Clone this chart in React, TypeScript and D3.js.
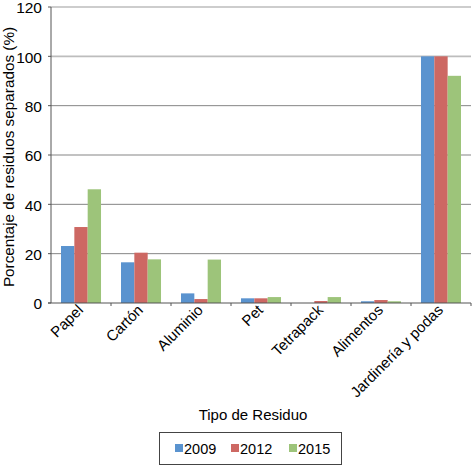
import React from "react";
import * as d3 from "d3";

const categories = ["Papel", "Cartón", "Aluminio", "Pet", "Tetrapack", "Alimentos", "Jardinería y podas"];
const seriesNames = ["2009", "2012", "2015"];
const values2009 = [23.1, 16.5, 3.9, 1.9, 0, 0.7, 100];
const values2012 = [30.8, 20.4, 1.6, 1.9, 0.8, 1.2, 100];
const values2015 = [46.1, 17.7, 17.6, 2.4, 2.4, 0.7, 92.1];
const yTicks = [0, 20, 40, 60, 80, 100, 120];
const colors = ["#5a93cf", "#cd6863", "#9dc47a"];

export default function App() {
  const W = 472, H = 466;
  const left = 51, right = 471, top = 7, bottom = 303;
  const series = [values2009, values2012, values2015];
  const x = d3.scaleBand<string>().domain(categories).range([left, right]).paddingInner(0.333).paddingOuter(0.1667);
  const xs = d3.scaleBand<string>().domain(seriesNames).range([0, x.bandwidth()]);
  const y = d3.scaleLinear().domain([0, 120]).range([bottom, top]);
  const step = (right - left) / categories.length;
  const font = "Liberation Sans, Arial, sans-serif";
  return (
    <svg width={W} height={H} style={{ position: "absolute", left: 0, top: 0, background: "#fff" }} fontFamily={font}>
      {yTicks.filter(t => t > 0).map(t => (
        <line key={t} x1={left} x2={right} y1={y(t)} y2={y(t)}
          stroke={t >= 100 ? "#bdbdbd" : "#858585"} strokeWidth={t >= 100 ? 1.6 : 1} />
      ))}
      {categories.map((c, i) => seriesNames.map((s, j) => {
        const v = series[j][i];
        if (v <= 0) return null;
        return <rect key={c + s} x={(x(c) as number) + (xs(s) as number)} y={y(v)} width={xs.bandwidth()}
          height={bottom - y(v)} fill={colors[j]} />;
      }))}
      <line x1={left} x2={left} y1={top} y2={bottom} stroke="#555" strokeWidth={1} />
      <line x1={left - 3} x2={right} y1={bottom} y2={bottom} stroke="#555" strokeWidth={1.2} />
      {yTicks.map(t => (
        <g key={t}>
          <line x1={left - 3} x2={left} y1={y(t)} y2={y(t)} stroke="#555" />
          <text x={42} y={y(t) + 1} dy="0.35em" textAnchor="end" fontSize={15.5} fill="#000">{t}</text>
        </g>
      ))}
      {categories.map((c, i) => (
        <line key={c} x1={left + step * (i + 1)} x2={left + step * (i + 1)} y1={bottom} y2={bottom + 3} stroke="#555" />
      ))}
      {categories.map(c => {
        const cx = (x(c) as number) + x.bandwidth() / 2 + 3;
        const cy = 311;
        return (
          <text key={c} x={cx} y={cy} transform={`rotate(-45 ${cx} ${cy})`} textAnchor="end" fontSize={15} fill="#000">{c}</text>
        );
      })}
      <text transform={`translate(14 ${(top + bottom) / 2 + 2}) rotate(-90)`} textAnchor="middle" fontSize={15.3} fill="#000">
        Porcentaje de residuos separados (%)
      </text>
      <text x={253} y={420} textAnchor="middle" fontSize={15} fill="#000">Tipo de Residuo</text>
      <rect x={159.5} y={432.5} width={182} height={32} fill="#fff" stroke="#444" strokeWidth={1} />
      {seriesNames.map((s, j) => {
        const lx = [175, 231, 289][j];
        return (
          <g key={s}>
            <rect x={lx} y={444} width={8} height={8} fill={colors[j]} />
            <text x={lx + 9} y={453.5} fontSize={14.5} fill="#000">{s}</text>
          </g>
        );
      })}
    </svg>
  );
}
